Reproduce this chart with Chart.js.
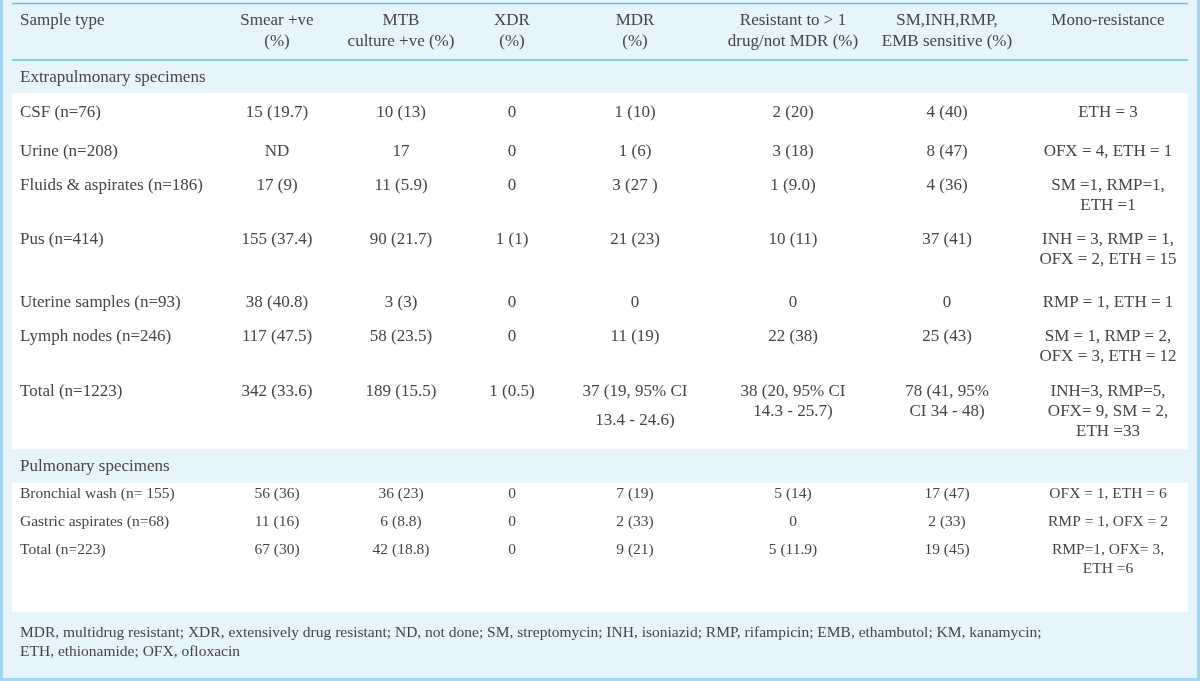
<!DOCTYPE html>
<html>
<head>
<meta charset="utf-8">
<script src="https://cdn.jsdelivr.net/npm/chart.js@4.4.1/dist/chart.umd.min.js"></script>
<style>
  html, body { margin: 0; padding: 0; background: #e6f4fc; }
  canvas { display: block; }
</style>
</head>
<body>
<canvas id="tableChart" width="1200" height="681"></canvas>
<script>
// ---- table data ----
const headers = [
  ['Sample type'],
  ['Smear +ve', '(%)'],
  ['MTB', 'culture +ve (%)'],
  ['XDR', '(%)'],
  ['MDR', '(%)'],
  ['Resistant to > 1', 'drug/not MDR (%)'],
  ['SM,INH,RMP,', 'EMB sensitive (%)'],
  ['Mono-resistance']
];

const groups = ['Extrapulmonary specimens', 'Pulmonary specimens'];

const sampleTypes = ['CSF (n=76)', 'Urine (n=208)', 'Fluids & aspirates (n=186)', 'Pus (n=414)',
  'Uterine samples (n=93)', 'Lymph nodes (n=246)', 'Total (n=1223)',
  'Bronchial wash (n= 155)', 'Gastric aspirates (n=68)', 'Total (n=223)'];
const smearPositive = ['15 (19.7)', 'ND', '17 (9)', '155 (37.4)', '38 (40.8)', '117 (47.5)', '342 (33.6)',
  '56 (36)', '11 (16)', '67 (30)'];
const culturePositive = ['10 (13)', '17', '11 (5.9)', '90 (21.7)', '3 (3)', '58 (23.5)', '189 (15.5)',
  '36 (23)', '6 (8.8)', '42 (18.8)'];
const xdr = ['0', '0', '0', '1 (1)', '0', '0', '1 (0.5)', '0', '0', '0'];
const mdr = ['1 (10)', '1 (6)', '3 (27 )', '21 (23)', '0', '11 (19)', '37 (19, 95% CI\n13.4 - 24.6)',
  '7 (19)', '2 (33)', '9 (21)'];
const resistantNotMdr = ['2 (20)', '3 (18)', '1 (9.0)', '10 (11)', '0', '22 (38)', '38 (20, 95% CI\n14.3 - 25.7)',
  '5 (14)', '0', '5 (11.9)'];
const sensitive = ['4 (40)', '8 (47)', '4 (36)', '37 (41)', '0', '25 (43)', '78 (41, 95%\nCI 34 - 48)',
  '17 (47)', '2 (33)', '19 (45)'];
const monoResistance = ['ETH = 3', 'OFX = 4, ETH = 1', 'SM =1, RMP=1,\nETH =1', 'INH = 3, RMP = 1,\nOFX = 2, ETH = 15',
  'RMP = 1, ETH = 1', 'SM = 1, RMP = 2,\nOFX = 3, ETH = 12', 'INH=3, RMP=5,\nOFX= 9, SM = 2,\nETH =33',
  'OFX = 1, ETH = 6', 'RMP = 1, OFX = 2', 'RMP=1, OFX= 3,\nETH =6'];

const footnote = [
  'MDR, multidrug resistant; XDR, extensively drug resistant; ND, not done; SM, streptomycin; INH, isoniazid; RMP, rifampicin; EMB, ethambutol; KM, kanamycin;',
  'ETH, ethionamide; OFX, ofloxacin'
];

const columns = [sampleTypes, smearPositive, culturePositive, xdr, mdr, resistantNotMdr, sensitive, monoResistance];

// ---- layout (page units, mapped through the chart scales) ----
const colX = [20, 277, 401, 512, 635, 793, 947, 1108];
const rowY = [113, 152, 186, 240, 303, 337, 392, 494, 522, 550];
const rowFont = [17, 17, 17, 17, 17, 17, 17, 15.5, 15.5, 15.5];
const rowGap = [20, 20, 20, 20, 20, 20, 20, 18.5, 18.5, 18.5];
const groupY = [78, 467];
const whiteBands = [[93, 449], [483, 612]];
const headerLineY = [21, 42];
const footY = [633, 652];
const wideGap = { '4,6': 29 };

const SERIF = '"Liberation Serif", "Times New Roman", serif';
const TEXT = '#454545';

const tablePlugin = {
  id: 'tablePlugin',
  beforeDraw(chart) {
    const { ctx, scales: { x, y } } = chart;
    const px = v => x.getPixelForValue(v);
    const py = v => y.getPixelForValue(v);
    ctx.save();
    ctx.fillStyle = '#e6f4fc';
    ctx.fillRect(px(0), py(0), px(1200) - px(0), py(681) - py(0));
    // white row bands
    ctx.fillStyle = '#ffffff';
    whiteBands.forEach(([a, b]) => ctx.fillRect(px(12), py(a), px(1188) - px(12), py(b) - py(a)));
    // outer frame
    ctx.fillStyle = '#a4d7f4';
    ctx.fillRect(px(0), py(0), px(3) - px(0), py(681) - py(0));
    ctx.fillRect(px(1197), py(0), px(1200) - px(1197), py(681) - py(0));
    ctx.fillRect(px(0), py(678), px(1200) - px(0), py(681) - py(678));
    // header rules
    ctx.strokeStyle = '#5ec2e6';
    ctx.lineWidth = 1.5;
    [3.5, 60].forEach(v => {
      ctx.beginPath();
      ctx.moveTo(px(12), py(v));
      ctx.lineTo(px(1188), py(v));
      ctx.stroke();
    });
    ctx.restore();
  },
  afterDatasetsDraw(chart) {
    const { ctx, scales: { x, y } } = chart;
    ctx.save();
    ctx.fillStyle = TEXT;
    ctx.textBaseline = 'middle';

    // headers
    ctx.font = '17px ' + SERIF;
    headers.forEach((lines, c) => {
      ctx.textAlign = c === 0 ? 'left' : 'center';
      lines.forEach((t, k) => ctx.fillText(t, x.getPixelForValue(colX[c]), y.getPixelForValue(headerLineY[k])));
    });

    // group labels
    ctx.textAlign = 'left';
    groups.forEach((g, i) => ctx.fillText(g, x.getPixelForValue(colX[0]), y.getPixelForValue(groupY[i])));

    // body cells, placed on the dataset points
    chart.data.datasets.forEach((ds, c) => {
      const meta = chart.getDatasetMeta(c);
      ctx.textAlign = c === 0 ? 'left' : 'center';
      meta.data.forEach((pt, r) => {
        ctx.font = rowFont[r] + 'px ' + SERIF;
        const gap = wideGap[c + ',' + r] || rowGap[r];
        ds.cells[r].split('\n').forEach((t, k) => ctx.fillText(t, pt.x, pt.y + k * gap));
      });
    });

    // footnote
    ctx.font = '15.5px ' + SERIF;
    ctx.textAlign = 'left';
    footnote.forEach((t, k) => ctx.fillText(t, x.getPixelForValue(colX[0]), y.getPixelForValue(footY[k])));
    ctx.restore();
  }
};

new Chart(document.getElementById('tableChart'), {
  type: 'scatter',
  data: {
    datasets: columns.map((cells, c) => ({
      label: headers[c].join(' '),
      cells: cells,
      data: cells.map((_, r) => ({ x: colX[c], y: rowY[r] })),
      pointRadius: 0,
      pointHoverRadius: 0
    }))
  },
  options: {
    responsive: false,
    devicePixelRatio: 1,
    animation: false,
    events: [],
    layout: { padding: 0 },
    plugins: { legend: { display: false }, tooltip: { enabled: false } },
    scales: {
      x: { type: 'linear', min: 0, max: 1200, display: false },
      y: { type: 'linear', min: 0, max: 681, reverse: true, display: false }
    }
  },
  plugins: [tablePlugin]
});
</script>
</body>
</html>
